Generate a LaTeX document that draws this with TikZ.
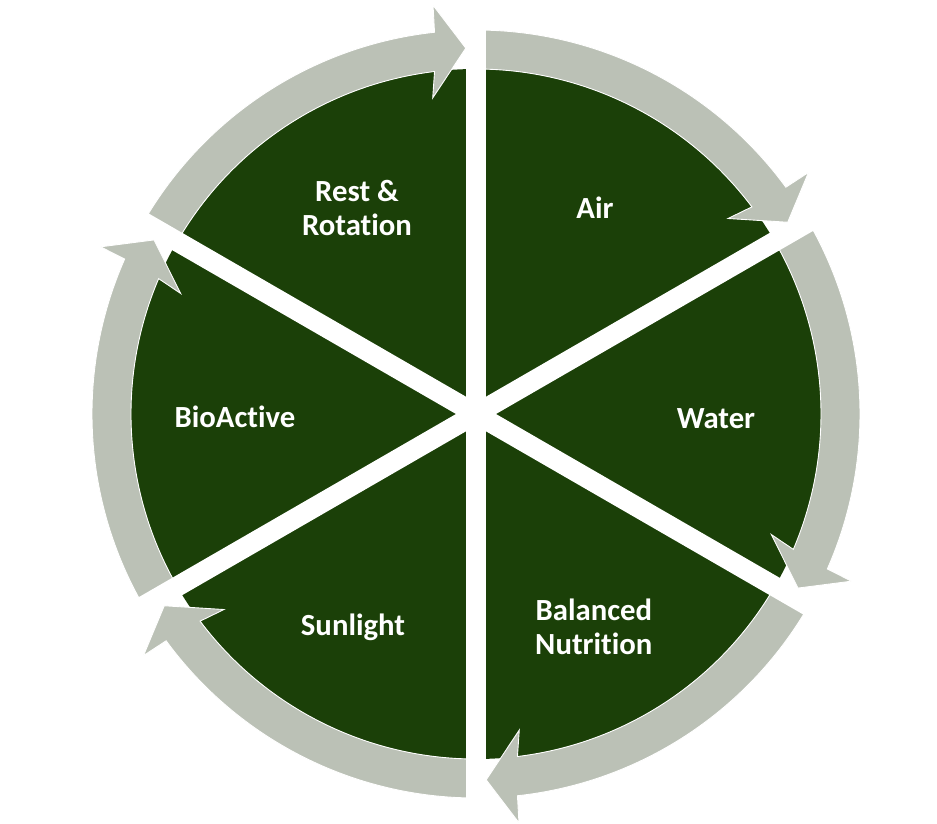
\documentclass[tikz,border=0pt]{standalone}
\usepackage{fontspec}
\setmainfont{Carlito}[Ligatures={NoCommon}]
\definecolor{leafgreen}{RGB}{27,64,8}
\definecolor{ringgray}{RGB}{187,193,182}

\begin{document}
\begin{tikzpicture}[
  x=0.02cm,y=0.02cm,
  sector/.style={fill=leafgreen},
  ring/.style={fill=ringgray,draw=white,line width=0.5pt,line join=miter},
  divider/.style={draw=white,line width=0.4cm},
  label/.style={text=white,font=\bfseries\fontsize{17.5}{19.5}\selectfont,align=center}
]
  \useasboundingbox (-476,-409) rectangle (461,414);

  % green disc
  \fill[sector] (0,0) circle[radius=345];

  % ring arrows, clockwise
  \filldraw[ring] (150:345) arc[start angle=150,end angle=96.9,radius=345] -- (97.8:319) -- (91.6:366) -- (96:411) -- (96.2:384) arc[start angle=96.2,end angle=150,radius=384] -- cycle;
  \filldraw[ring] (90:345) arc[start angle=90,end angle=36.9,radius=345] -- (37.8:319) -- (31.6:366) -- (36:411) -- (36.2:384) arc[start angle=36.2,end angle=90,radius=384] -- cycle;
  \filldraw[ring] (30:345) arc[start angle=30,end angle=-23.1,radius=345] -- (-22.2:319) -- (-28.4:366) -- (-24:411) -- (-23.8:384) arc[start angle=-23.8,end angle=30,radius=384] -- cycle;
  \filldraw[ring] (-30:345) arc[start angle=-30,end angle=-83.1,radius=345] -- (-82.2:319) -- (-88.4:366) -- (-84:411) -- (-83.8:384) arc[start angle=-83.8,end angle=-30,radius=384] -- cycle;
  \filldraw[ring] (-90:345) arc[start angle=-90,end angle=-143.1,radius=345] -- (-142.2:319) -- (-148.4:366) -- (-144:411) -- (-143.8:384) arc[start angle=-143.8,end angle=-90,radius=384] -- cycle;
  \filldraw[ring] (210:345) arc[start angle=210,end angle=156.9,radius=345] -- (157.8:319) -- (151.6:366) -- (156:411) -- (156.2:384) arc[start angle=156.2,end angle=210,radius=384] -- cycle;

  % white gaps between the sectors
  \coordinate (hub) at (0,0);
  \draw[divider] (hub) -- (90:430);
  \draw[divider] (hub) -- (30:430);
  \draw[divider] (hub) -- (-30:430);
  \draw[divider] (hub) -- (-90:430);
  \draw[divider] (hub) -- (-150:430);
  \draw[divider] (hub) -- (150:430);

  \node[label] (rest) at (120:238) {Rest \&\\Rotation};
  \node[label] (air) at (60:238) {Air};
  \node[label] (water) at (-1:240) {Water};
  \node[label] (nutrition) at (-61:243) {Balanced\\Nutrition};
  \node[label] (sunlight) at (-120:246) {Sunlight};
  \node[label] (bioactive) at (180.7:241) {BioActive};
\end{tikzpicture}
\end{document}
